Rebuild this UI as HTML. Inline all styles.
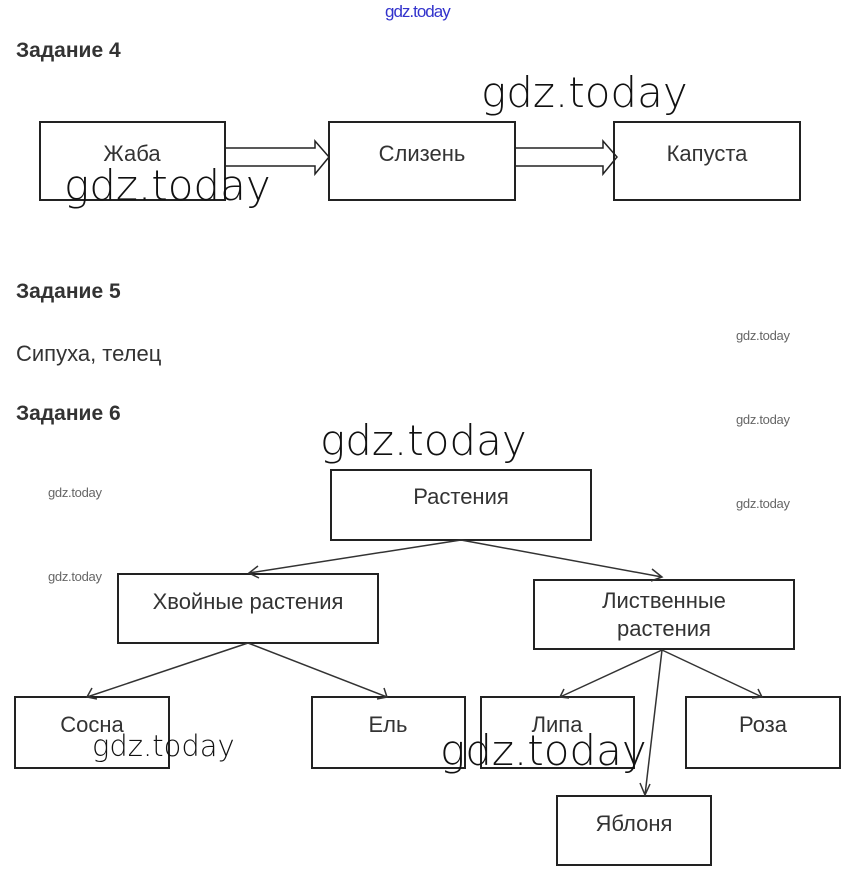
<!DOCTYPE html>
<html><head><meta charset="utf-8"><style>
body{margin:0;background:#fff;width:853px;height:879px;position:relative;overflow:hidden;font-family:"Liberation Sans",sans-serif}
.t{position:absolute;white-space:nowrap}
.h{font-weight:bold;font-size:21px;color:#333}
.w{font-family:"DejaVu Sans","Liberation Sans",sans-serif;font-weight:200;color:#111;letter-spacing:0px}
.s{font-size:13px;color:#666;letter-spacing:-0.3px}
</style></head><body>
<svg width="853" height="879" style="position:absolute;left:0;top:0" font-family="Liberation Sans, sans-serif">
<g fill="none" stroke="#222" stroke-width="2">
<rect x="40" y="122" width="185" height="78"/>
<rect x="329" y="122" width="186" height="78"/>
<rect x="614" y="122" width="186" height="78"/>
<rect x="331" y="470" width="260" height="70"/>
<rect x="118" y="574" width="260" height="69"/>
<rect x="534" y="580" width="260" height="69"/>
<rect x="15" y="697" width="154" height="71"/>
<rect x="312" y="697" width="153" height="71"/>
<rect x="481" y="697" width="153" height="71"/>
<rect x="686" y="697" width="154" height="71"/>
<rect x="557" y="796" width="154" height="69"/>
</g>
<g fill="none" stroke="#222" stroke-width="1.5">
<path d="M225 148H315V141L329 157L315 174V166H225"/>
<path d="M515 148H603V141L617 157L603 174V166H515"/>
</g>
<g fill="none" stroke="#333" stroke-width="1.5">
<path d="M461 540L249 573M258 566L249 573L259 578"/>
<path d="M461 540L662 577M652 569L662 577L651 581"/>
<path d="M248 643L87 697M92 688L87 697L97 699"/>
<path d="M248 643L387 697M384 688L387 697L377 699"/>
<path d="M662 650L560 697M564 689L560 697L569 698"/>
<path d="M662 650L762 697M758 689L762 697L752 698"/>
<path d="M662 650L645 795M640 783L645 795L650 784"/>
</g>
<g fill="#333" font-size="22" text-anchor="middle">
<text x="132" y="161">Жаба</text>
<text x="422" y="161">Слизень</text>
<text x="707" y="161">Капуста</text>
<text x="461" y="504">Растения</text>
<text x="248" y="609">Хвойные растения</text>
<text x="664" y="608">Лиственные</text>
<text x="664" y="636">растения</text>
<text x="92" y="732">Сосна</text>
<text x="388" y="732">Ель</text>
<text x="557" y="732">Липа</text>
<text x="763" y="732">Роза</text>
<text x="634" y="831">Яблоня</text>
</g>
</svg>
<div class="t" style="left:385px;top:2px;font-size:17px;color:#33c;letter-spacing:-1px">gdz.today</div>
<div class="t h" style="left:16px;top:39px">Задание 4</div>
<div class="t h" style="left:16px;top:280px">Задание 5</div>
<div class="t" style="left:16px;top:341px;font-size:22px;color:#333">Сипуха, телец</div>
<div class="t h" style="left:16px;top:402px">Задание 6</div>
<div class="t w" style="left:481px;top:68px;font-size:42px">gdz.today</div>
<div class="t w" style="left:64px;top:161px;font-size:42px">gdz.today</div>
<div class="t w" style="left:320px;top:416px;font-size:42px">gdz.today</div>
<div class="t w" style="left:440px;top:726px;font-size:42px">gdz.today</div>
<div class="t w" style="left:92px;top:729px;font-size:29px">gdz.today</div>
<div class="t s" style="left:736px;top:328px">gdz.today</div>
<div class="t s" style="left:736px;top:412px">gdz.today</div>
<div class="t s" style="left:736px;top:496px">gdz.today</div>
<div class="t s" style="left:48px;top:485px">gdz.today</div>
<div class="t s" style="left:48px;top:569px">gdz.today</div>
</body></html>
